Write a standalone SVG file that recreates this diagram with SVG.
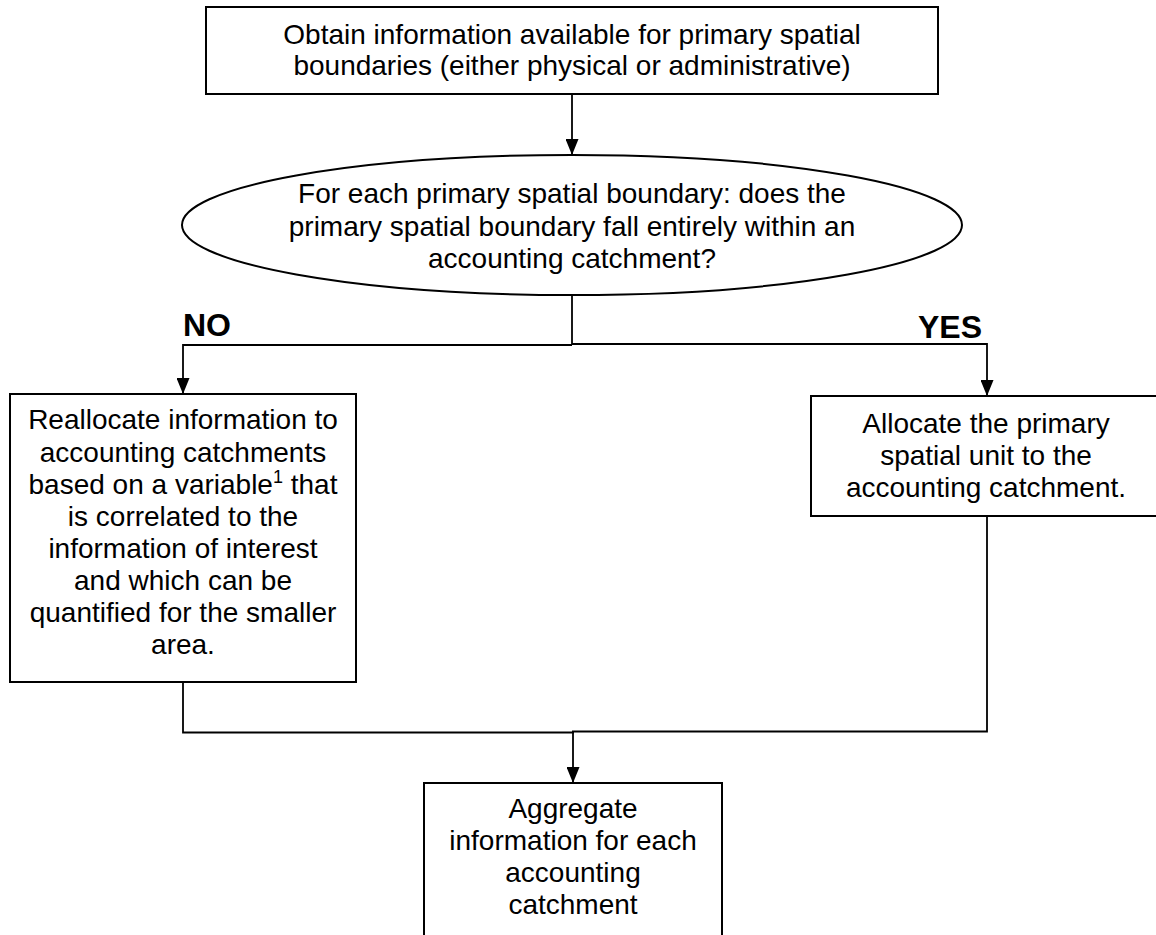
<svg xmlns="http://www.w3.org/2000/svg" width="1156" height="935" viewBox="0 0 1156 935">
<style>
.box{fill:#fff;stroke:#000;stroke-width:2}
.t{font-family:"Liberation Sans",Arial,sans-serif;font-size:28px;fill:#000;text-anchor:middle}
.lbl{font-family:"Liberation Sans",Arial,sans-serif;font-size:32px;font-weight:bold;fill:#000}
.c{fill:none;stroke:#000;stroke-width:1.8}
</style>
<defs>
<marker id="arr" markerUnits="userSpaceOnUse" markerWidth="16" markerHeight="13" refX="16" refY="6.5" orient="auto" viewBox="0 0 16 13">
<path d="M0,0 L16,6.5 L0,13 Z" fill="#000"/>
</marker>
</defs>
<rect width="1156" height="935" fill="#fff"/>
<g id="connectors">
<line class="c" x1="572" y1="94" x2="572" y2="155" marker-end="url(#arr)"/>
<polyline class="c" points="572,295 572,344.5"/>
<line class="c" x1="183" y1="345" x2="572" y2="345"/>
<line class="c" x1="572" y1="344" x2="987" y2="344"/>
<line class="c" x1="183" y1="344" x2="183" y2="394" marker-end="url(#arr)"/>
<line class="c" x1="987" y1="343" x2="987" y2="396" marker-end="url(#arr)"/>
<polyline class="c" points="183,682 183,732.5 574,732.5"/>
<polyline class="c" points="987,516 987,731.5 572,731.5"/>
<line class="c" x1="573" y1="731" x2="573" y2="783" marker-end="url(#arr)"/>
</g>
<g id="n_obtain">
<rect class="box" x="206" y="7" width="732" height="87"/>
<text class="t" x="572" y="43.5">Obtain information available for primary spatial</text>
<text class="t" x="572" y="74.5">boundaries (either physical or administrative)</text>
</g>
<g id="n_decision">
<ellipse class="box" cx="572" cy="225" rx="390" ry="70"/>
<text class="t" x="572" y="203">For each primary spatial boundary: does the</text>
<text class="t" x="572" y="235.5">primary spatial boundary fall entirely within an</text>
<text class="t" x="572" y="268">accounting catchment?</text>
</g>
<g id="lbl_no"><text class="lbl" x="183" y="336">NO</text></g>
<g id="lbl_yes"><text class="lbl" x="918" y="338">YES</text></g>
<g id="n_reallocate">
<rect class="box" x="10" y="394" width="346" height="288"/>
<text class="t" x="183" y="429">Reallocate information to</text>
<text class="t" x="183" y="461.5">accounting catchments</text>
<text class="t" x="183" y="493.5">based on a variable<tspan font-size="18" dy="-11">1</tspan><tspan dy="11"> that</tspan></text>
<text class="t" x="183" y="526">is correlated to the</text>
<text class="t" x="183" y="558">information of interest</text>
<text class="t" x="183" y="590">and which can be</text>
<text class="t" x="183" y="622">quantified for the smaller</text>
<text class="t" x="183" y="654">area.</text>
</g>
<g id="n_allocate">
<rect class="box" x="811" y="396" width="350" height="120"/>
<text class="t" x="986" y="433">Allocate the primary</text>
<text class="t" x="986" y="465">spatial unit to the</text>
<text class="t" x="986" y="497">accounting catchment.</text>
</g>
<g id="n_aggregate">
<rect class="box" x="424" y="783" width="298" height="170"/>
<text class="t" x="573" y="818">Aggregate</text>
<text class="t" x="573" y="850">information for each</text>
<text class="t" x="573" y="882">accounting</text>
<text class="t" x="573" y="914">catchment</text>
</g>
</svg>
